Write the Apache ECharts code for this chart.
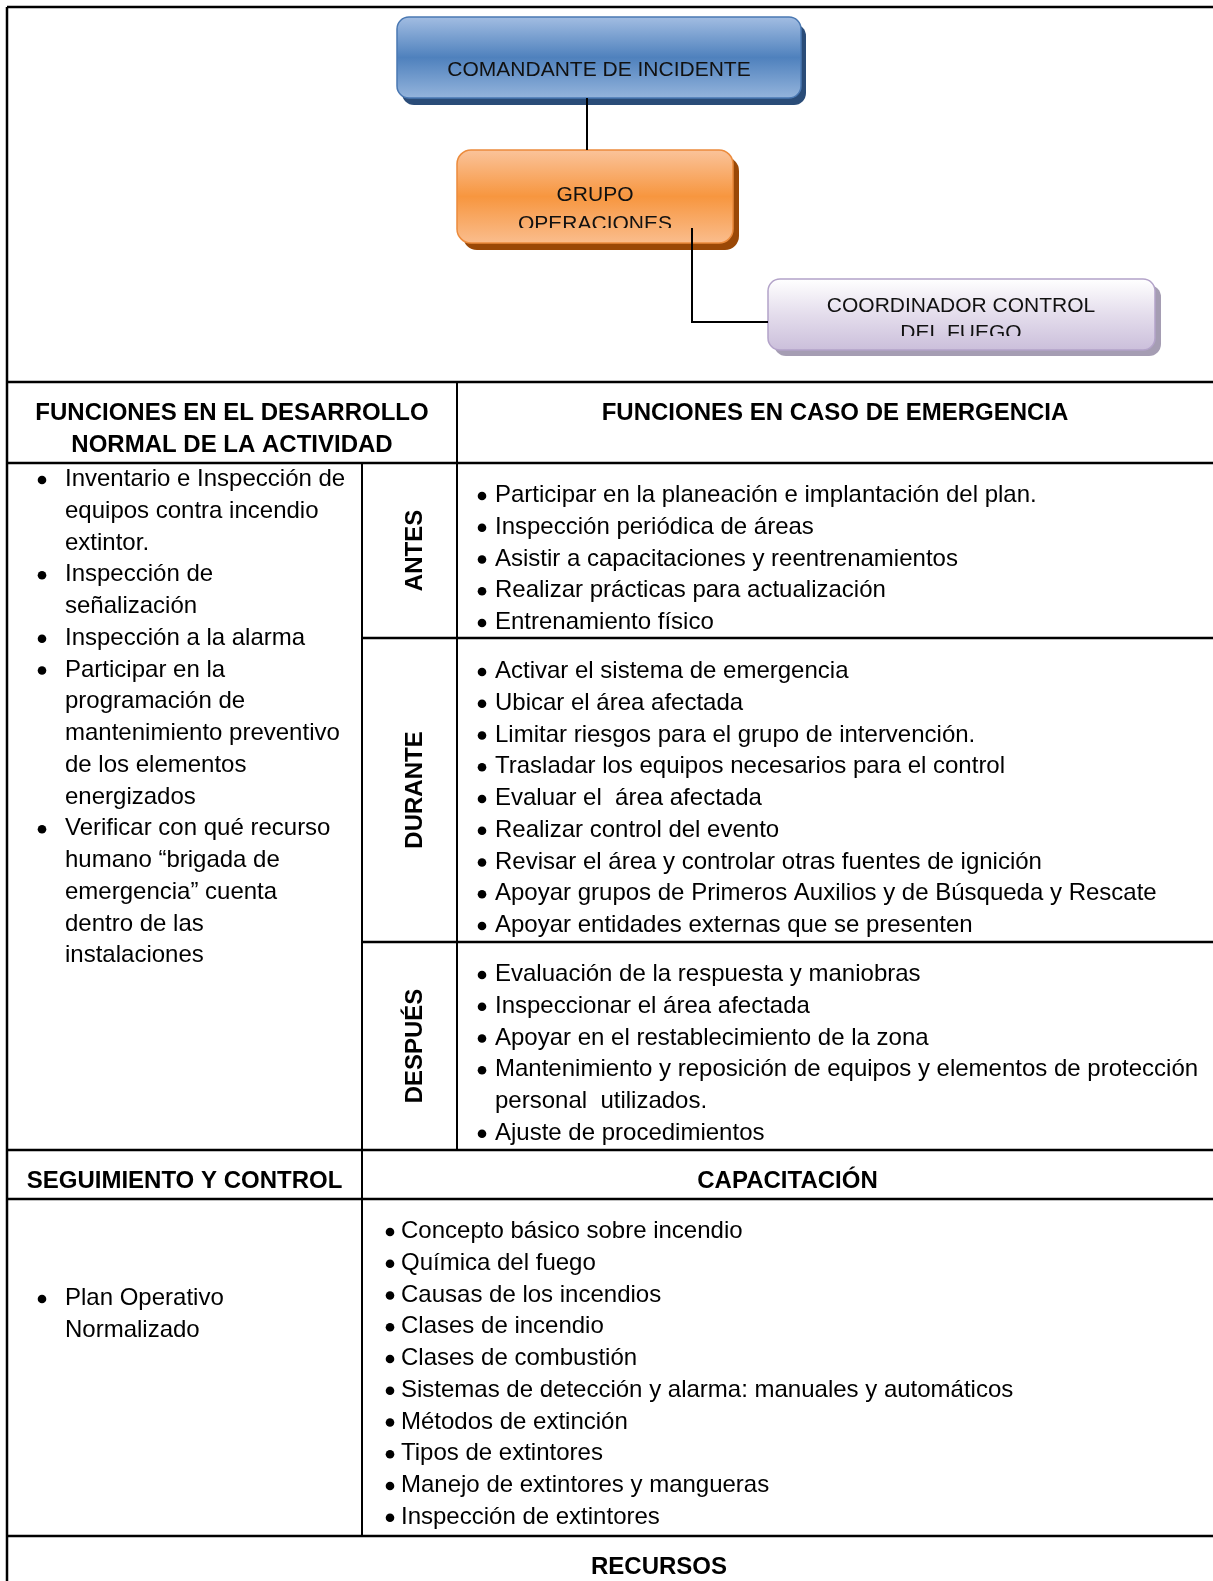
<!DOCTYPE html>
<html><head><meta charset="utf-8">
<script src="https://cdn.jsdelivr.net/npm/echarts@6/dist/echarts.min.js"></script>
<style>html,body{margin:0;padding:0;background:#fff}#c{width:1213px;height:1581px}</style>
</head><body><div id="c"></div>
<script>
// ---------------- DATA ----------------
const orgNodes = [
  ['COMANDANTE DE INCIDENTE'],
  ['GRUPO', 'OPERACIONES'],
  ['COORDINADOR CONTROL', 'DEL FUEGO']
];
const orgLinks = [[0, 1], [1, 2]];

const headerNormal = ['FUNCIONES EN EL DESARROLLO', 'NORMAL DE LA ACTIVIDAD'];
const headerEmergency = 'FUNCIONES EN CASO DE EMERGENCIA';

const normalFunctions = [
  ['Inventario e Inspección de', 'equipos contra incendio', 'extintor.'],
  ['Inspección de', 'señalización'],
  ['Inspección a la alarma'],
  ['Participar en la', 'programación de', 'mantenimiento preventivo', 'de los elementos', 'energizados'],
  ['Verificar con qué recurso', 'humano “brigada de', 'emergencia” cuenta', 'dentro de las', 'instalaciones']
];

const phaseLabels = ['ANTES', 'DURANTE', 'DESPUÉS'];
const antes = [
  ['Participar en la planeación e implantación del plan.'],
  ['Inspección periódica de áreas'],
  ['Asistir a capacitaciones y reentrenamientos'],
  ['Realizar prácticas para actualización'],
  ['Entrenamiento físico']
];
const durante = [
  ['Activar el sistema de emergencia'],
  ['Ubicar el área afectada'],
  ['Limitar riesgos para el grupo de intervención.'],
  ['Trasladar los equipos necesarios para el control'],
  ['Evaluar el  área afectada'],
  ['Realizar control del evento'],
  ['Revisar el área y controlar otras fuentes de ignición'],
  ['Apoyar grupos de Primeros Auxilios y de Búsqueda y Rescate'],
  ['Apoyar entidades externas que se presenten']
];
const despues = [
  ['Evaluación de la respuesta y maniobras'],
  ['Inspeccionar el área afectada'],
  ['Apoyar en el restablecimiento de la zona'],
  ['Mantenimiento y reposición de equipos y elementos de protección', 'personal  utilizados.'],
  ['Ajuste de procedimientos']
];

const headerSeguimiento = 'SEGUIMIENTO Y CONTROL';
const headerCapacitacion = 'CAPACITACIÓN';
const seguimiento = [['Plan Operativo', 'Normalizado']];
const capacitacion = [
  ['Concepto básico sobre incendio'],
  ['Química del fuego'],
  ['Causas de los incendios'],
  ['Clases de incendio'],
  ['Clases de combustión'],
  ['Sistemas de detección y alarma: manuales y automáticos'],
  ['Métodos de extinción'],
  ['Tipos de extintores'],
  ['Manejo de extintores y mangueras'],
  ['Inspección de extintores']
];
const headerRecursos = 'RECURSOS';

// ---------------- LAYOUT / STYLE ----------------
const W = 1213, H = 1581;
const col = { left: 7, mid: 362, split: 457, right: 1213 };
const row = { top: 7, org: 382, head: 463, antes: 638, durante: 942, despues: 1150, segHead: 1199, cap: 1536 };
const LINE = 31.75;
const DY = 1.5; // baseline nudge
const FONT = "'Liberation Sans', Arial, Helvetica, sans-serif";

const orgBoxes = [
  { x: 397, y: 17, w: 404, h: 81, r: 12, sx: 5, sy: 7, lineY: [70], clip: null, cx: 599,
    stops: ['#a2bde2', '#4f81bd', '#94b4dc'], border: '#4a78b2', shadow: '#2a4c78' },
  { x: 457, y: 150, w: 276, h: 93, r: 14, sx: 6, sy: 7, lineY: [195, 224], clip: 228, cx: 595,
    stops: ['#fac39a', '#f7963f', '#fabd8d'], border: '#ec8b3c', shadow: '#9a4806' },
  { x: 768, y: 279, w: 387, h: 71, r: 12, sx: 6, sy: 6, lineY: [306, 333], clip: 336, cx: 961,
    stops: ['#ffffff', '#e4ddec', '#cbbfdb'], border: '#b3a3c9', shadow: '#a59db3' }
];
const orgConnectors = [
  { x: 587, y1: 98, y2: 150 },
  { x: 692, y1: 228, y2: 322 }
];

// ---------------- BUILD ELEMENTS ----------------
const els = [];
const addLine = (x1, y1, x2, y2, w) => els.push({ k: 'line', pts: [[x1, y1], [x2, y2]], w: w || 2.5 });
const addPoly = (pts, w) => els.push({ k: 'line', pts, w: w || 2 });
const addText = (x, y, text, o) => els.push(Object.assign({ k: 'text', x, y: y + DY, text }, o || {}));

// org chart
orgBoxes.forEach((b, i) => els.push({ k: 'box', b, node: i }));
orgLinks.forEach((lk, i) => {
  const c = orgConnectors[i];
  const tgt = orgBoxes[lk[1]];
  if (i === 0) addPoly([[c.x, c.y1], [c.x, tgt.y]], 2);
  else addPoly([[c.x, c.y1], [c.x, c.y2], [tgt.x, c.y2]], 2);
});

// table grid
addLine(col.left, row.top, col.right, row.top);
addLine(col.left, row.org, col.right, row.org);
addLine(col.left, row.head, col.right, row.head);
addLine(col.mid, row.antes, col.right, row.antes);
addLine(col.mid, row.durante, col.right, row.durante);
addLine(col.left, row.despues, col.right, row.despues);
addLine(col.left, row.segHead, col.right, row.segHead);
addLine(col.left, row.cap, col.right, row.cap);
addLine(col.left, row.top, col.left, H, 2.5);
addLine(col.split, row.org, col.split, row.despues, 2);
addLine(col.mid, row.head, col.mid, row.cap, 2);

// headers
const bold = { weight: 'bold', align: 'center' };
headerNormal.forEach((t, i) => addText((col.left + col.split) / 2, 412 + i * LINE, t, bold));
addText((col.split + col.right) / 2, 412, headerEmergency, bold);
addText((col.left + col.mid) / 2, 1180, headerSeguimiento, bold);
addText((col.mid + col.right) / 2, 1180, headerCapacitacion, bold);
addText(659, 1566, headerRecursos, bold);

// phase labels (vertical)
const phaseBounds = [[row.head, row.antes], [row.antes, row.durante], [row.durante, row.despues]];
phaseLabels.forEach((t, i) => els.push({ k: 'text', x: 415, y: (phaseBounds[i][0] + phaseBounds[i][1]) / 2, text: t,
  weight: 'bold', align: 'center', rot: Math.PI / 2 }));

// bullet lists
function addList(items, y0, bx, tx) {
  let n = 0;
  items.forEach(lines => {
    lines.forEach((ln, j) => {
      const y = y0 + n * LINE;
      if (j === 0) els.push({ k: 'dot', x: bx, y: y + DY + 0.5, r: 4.3 });
      addText(tx, y, ln, { align: 'left' });
      n++;
    });
  });
}
addList(normalFunctions, 478, 42, 65);
addList(antes, 494, 482, 495);
addList(durante, 670, 482, 495);
addList(despues, 973, 482, 495);
addList(seguimiento, 1297, 42, 65);
addList(capacitacion, 1230, 390, 401);

// ---------------- RENDER ----------------
function grad(p1, p2, stops) {
  return new echarts.graphic.LinearGradient(0, p1[1], 0, p2[1], [
    { offset: 0, color: stops[0] }, { offset: 0.5, color: stops[1] }, { offset: 1, color: stops[2] }
  ], true);
}

function renderItem(params, api) {
  const e = els[api.value(0)];
  if (e.k === 'line') {
    return { type: 'polyline', shape: { points: e.pts.map(p => api.coord(p)) },
      style: { stroke: '#000', lineWidth: e.w, fill: null } };
  }
  if (e.k === 'dot') {
    const p = api.coord([e.x, e.y]);
    return { type: 'circle', shape: { cx: p[0], cy: p[1], r: e.r }, style: { fill: '#000' } };
  }
  if (e.k === 'text') {
    const p = api.coord([e.x, e.y]);
    return { type: 'text', x: p[0], y: p[1], rotation: e.rot || 0,
      style: { text: e.text, x: 0, y: 0, fill: '#000', align: e.align || 'left', verticalAlign: 'middle',
        font: (e.weight || 'normal') + ' 24px ' + FONT } };
  }
  if (e.k === 'box') {
    const b = e.b;
    const p1 = api.coord([b.x, b.y]), p2 = api.coord([b.x + b.w, b.y + b.h]);
    const w = p2[0] - p1[0], h = p2[1] - p1[1];
    const children = [
      { type: 'rect', shape: { x: p1[0] + b.sx, y: p1[1] + b.sy, width: w, height: h, r: b.r }, style: { fill: b.shadow } },
      { type: 'rect', shape: { x: p1[0], y: p1[1], width: w, height: h, r: b.r }, style: { fill: grad(p1, p2, b.stops), stroke: b.border, lineWidth: 1.5 } }
    ];
    orgNodes[e.node].forEach((t, j) => {
      const tp = api.coord([b.cx, b.lineY[j]]);
      children.push({ type: 'text', x: tp[0], y: tp[1],
        style: { text: t, x: 0, y: 0, fill: '#111', align: 'center', verticalAlign: 'middle', font: 'normal 21px ' + FONT } });
    });
    if (b.clip) {
      const cp = api.coord([b.x, b.clip]);
      children.push({ type: 'rect', shape: { x: p1[0] + 16, y: cp[1], width: w - 32, height: p2[1] - cp[1] - 1.5 },
        style: { fill: grad(p1, p2, b.stops) } });
    }
    return { type: 'group', children };
  }
  return null;
}

const chart = echarts.init(document.getElementById('c'), null, { renderer: 'canvas' });
chart.setOption({
  animation: false,
  backgroundColor: '#fff',
  grid: { left: 0, right: 0, top: 0, bottom: 0 },
  xAxis: { type: 'value', min: 0, max: W, show: false },
  yAxis: { type: 'value', min: 0, max: H, inverse: true, show: false },
  series: [{
    type: 'custom', coordinateSystem: 'cartesian2d', silent: true, clip: false,
    data: els.map((e, i) => [i, 0]),
    encode: { x: 0, y: 1 },
    renderItem
  }]
});
</script></body></html>
